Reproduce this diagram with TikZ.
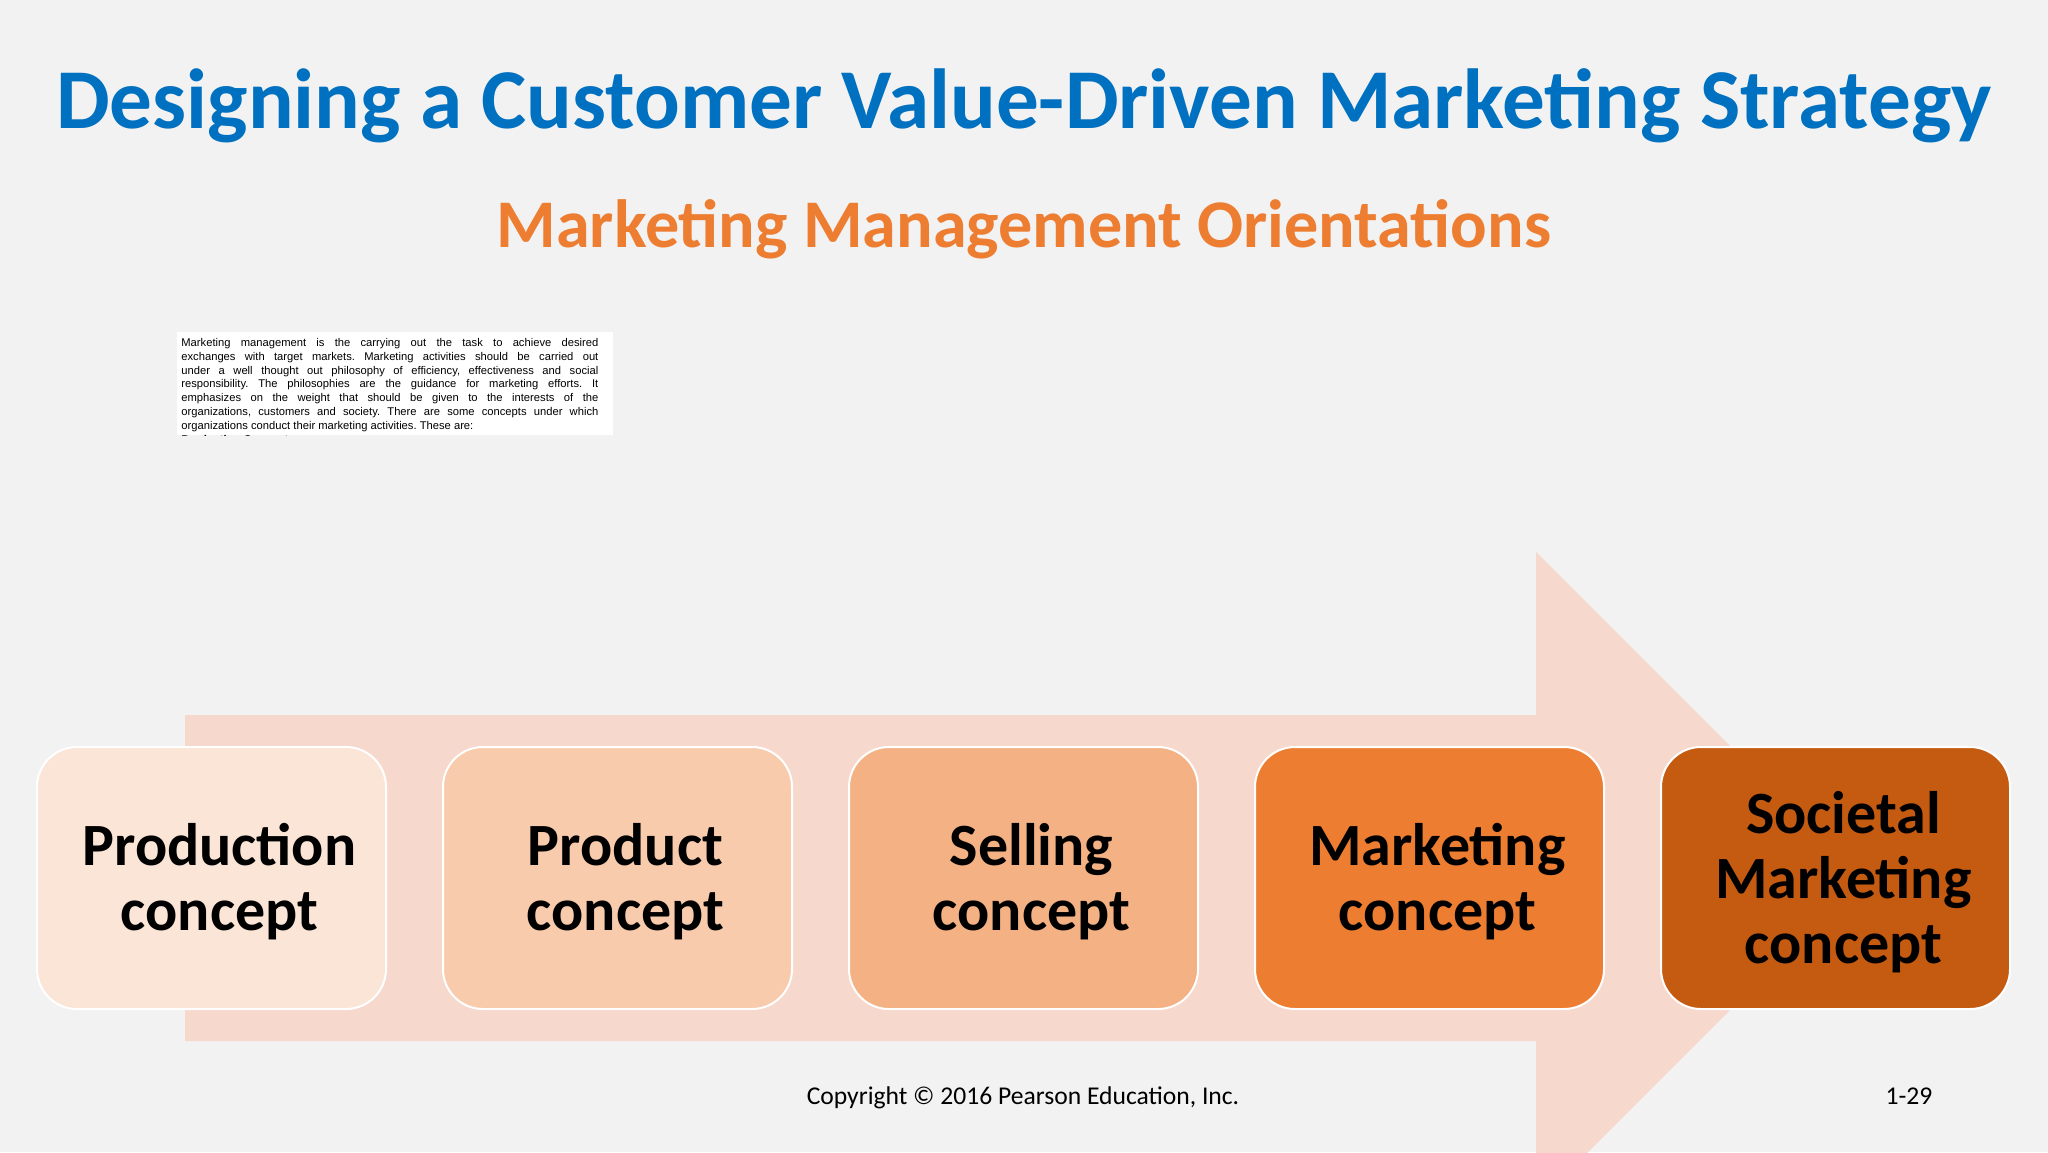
\documentclass[tikz,border=0pt]{standalone}
\usepackage{fontspec}
\setmainfont{Carlito}
\newfontfamily\arialfont{Liberation Sans}
\usetikzlibrary{positioning}

\definecolor{slidegray}{HTML}{F2F2F2}
\definecolor{titleblue}{HTML}{0070C0}
\definecolor{suborange}{HTML}{ED7D31}
\definecolor{arrowpink}{HTML}{F7D8CD}
\definecolor{boxA}{HTML}{FBE5D6}
\definecolor{boxB}{HTML}{F8CBAD}
\definecolor{boxC}{HTML}{F4B183}
\definecolor{boxD}{HTML}{ED7D31}
\definecolor{boxE}{HTML}{C55A11}

\tikzset{
  concept/.style={rectangle,rounded corners=20pt,draw=white,line width=1pt,
    minimum width=174.5pt,minimum height=131pt,inner sep=0pt},
  concepttext/.style={align=center,inner sep=0pt,
    font=\fontsize{30}{32.5}\selectfont\bfseries},
  footer/.style={anchor=base,font=\fontsize{12.8}{14}\selectfont}
}

\begin{document}
\begin{tikzpicture}
	[x=0.5pt,y=-0.5pt]
	\useasboundingbox (0,0) rectangle (2048,1152);
	\clip (0,0) rectangle (2048,1152);
	\fill[slidegray] (0,0) rectangle (2048,1152);
	
	\node[anchor=base,text=titleblue,font=\fontsize{42.6}{48}\selectfont\bfseries] (title) at (1024,128) {Designing a Customer Value-Driven Marketing Strategy};
	\node[anchor=base,text=suborange,font=\fontsize{34.1}{40}\selectfont\bfseries] (subtitle) at (1024,247) {Marketing Management Orientations};
	
	% pasted text
	\begin{scope}
	\clip (177,332) rectangle (613,435);
	\fill[white] (177,332) rectangle (613,435);
	\node[anchor=north west,inner sep=0pt,text width=208.5pt,align=justify,
	  font=\arialfont\fontsize{5.6}{6.9}\selectfont] (summary) at (181,338)
	  {\frenchspacing\hyphenpenalty=10000 Marketing management is the carrying out the task to achieve desired\linebreak
	  exchanges with target markets. Marketing activities should be carried out\linebreak
	  under a well thought out philosophy of efficiency, effectiveness and social\linebreak
	  responsibility. The philosophies are the guidance for marketing efforts. It\linebreak
	  emphasizes on the weight that should be given to the interests of the\linebreak
	  organizations, customers and society. There are some concepts under which\linebreak
	  organizations conduct their marketing activities. These are:\par
	  \textbf{Production Concept:}};
	\end{scope}
	
	% big arrow
	\fill[arrowpink] (185,715) -- (1536,715) -- (1536,552) -- (1862,878)
	  -- (1536,1204) -- (1536,1041) -- (185,1041) -- cycle;
	
	\foreach \name/\x/\col/\txt in
	{production/211.5/boxA/{Production\\concept}, product/617.5/boxB/{Product\\concept},
	 selling/1023.5/boxC/{Selling\\concept}, marketing/1429.5/boxD/{Marketing\\concept},
	 societal/1835.5/boxE/{Societal\\Marketing\\concept}}
	{
	\node[concept,fill=\col] (\name) at (\x,878) {};
	\node[concepttext] (\name-text) at ([xshift=4pt,yshift=-2pt]\name.center) {\txt};
	}
	
	\node[footer] (copyright) at (1023,1104) {Copyright © 2016 Pearson Education, Inc.};
	\node[footer] (pagenum) at (1909,1104) {1-29};
\end{tikzpicture}
\end{document}
